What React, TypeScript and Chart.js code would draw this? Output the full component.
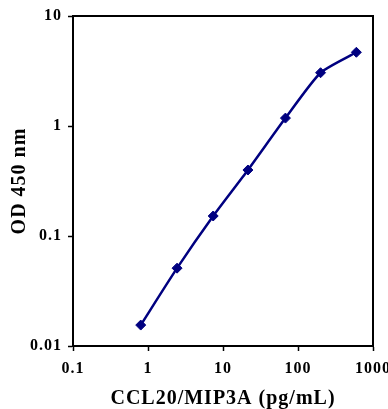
import React, { useEffect, useRef } from "react";
import { Chart, registerables } from "chart.js";

Chart.register(...registerables);

const concentrations = [0.8, 2.44, 7.4, 21.5, 68, 200, 600];
const odValues = [0.0155, 0.051, 0.152, 0.398, 1.18, 3.05, 4.68];
const xTicks = [0.1, 1, 10, 100, 1000];
const yTicks = [0.01, 0.1, 1, 10];
const xTitle = "CCL20/MIP3A (pg/mL)";
const yTitle = "OD 450 nm";

const FONT = "'Liberation Serif', 'Times New Roman', serif";

const framePlugin = {
  id: "frame",
  beforeDraw(chart: any) {
    (chart.ctx as any).letterSpacing = "1px";
  },
  afterDraw(chart: any) {
    const { ctx, chartArea } = chart;
    ctx.save();
    ctx.strokeStyle = "#000";
    ctx.lineWidth = 2;
    ctx.beginPath();
    ctx.moveTo(chartArea.left, chartArea.top);
    ctx.lineTo(chartArea.right, chartArea.top);
    ctx.lineTo(chartArea.right, chartArea.bottom);
    ctx.stroke();
    ctx.restore();
  },
};

export default function App() {
  const ref = useRef<HTMLCanvasElement | null>(null);

  useEffect(() => {
    document.body.style.margin = "0";
    const canvas = ref.current;
    if (!canvas) return;
    const chart = new Chart(canvas, {
      type: "line",
      data: {
        datasets: [
          {
            data: concentrations.map((x, i) => ({ x, y: odValues[i] })),
            borderColor: "#000080",
            backgroundColor: "#000080",
            borderWidth: 2.5,
            pointStyle: "rectRot",
            pointRadius: 5,
            pointBorderWidth: 1,
            tension: 0.2,
            fill: false,
          },
        ],
      },
      options: {
        animation: false,
        responsive: false,
        maintainAspectRatio: false,
        layout: { padding: { top: 16, right: 15, left: 0, bottom: 0 } },
        plugins: { legend: { display: false }, tooltip: { enabled: false } },
        scales: {
          x: {
            type: "logarithmic",
            min: 0.1,
            max: 1000,
            afterBuildTicks: (s: any) => {
              s.ticks = xTicks.map((v) => ({ value: v }));
            },
            afterFit: (s: any) => {
              s.height = 63;
              s.paddingLeft = 0;
              s.paddingRight = 0;
            },
            border: { display: true, color: "#000", width: 2 },
            grid: {
              display: true,
              drawOnChartArea: false,
              drawTicks: true,
              tickLength: 5,
              tickWidth: 1.5,
              tickColor: "#000",
            },
            ticks: {
              color: "#000",
              font: { family: FONT, size: 16, weight: "bold" },
              padding: 8,
              maxRotation: 0,
              autoSkip: false,
              callback: (v: any) => String(v),
            },
            title: {
              display: true,
              text: xTitle,
              color: "#000",
              font: { family: FONT, size: 20, weight: "bold", lineHeight: 1 },
              padding: { top: 0, bottom: 0 },
            },
          },
          y: {
            type: "logarithmic",
            min: 0.01,
            max: 10,
            afterBuildTicks: (s: any) => {
              s.ticks = yTicks.map((v) => ({ value: v }));
            },
            afterFit: (s: any) => {
              s.width = 73;
              s.paddingTop = 0;
              s.paddingBottom = 0;
            },
            border: { display: true, color: "#000", width: 2 },
            grid: {
              display: true,
              drawOnChartArea: false,
              drawTicks: true,
              tickLength: 5,
              tickWidth: 1.5,
              tickColor: "#000",
            },
            ticks: {
              color: "#000",
              font: { family: FONT, size: 16, weight: "bold" },
              padding: 6,
              autoSkip: false,
              callback: (v: any) => String(v),
            },
            title: {
              display: true,
              text: yTitle,
              color: "#000",
              font: { family: FONT, size: 20, weight: "bold", lineHeight: 1.2 },
              padding: { top: 8, bottom: 0 },
            },
          },
        },
      },
      plugins: [framePlugin],
    } as any);
    return () => chart.destroy();
  }, []);

  return (
    <div style={{ width: 388, height: 409 }}>
      <canvas ref={ref} width={388} height={409} style={{ display: "block" }} />
    </div>
  );
}
